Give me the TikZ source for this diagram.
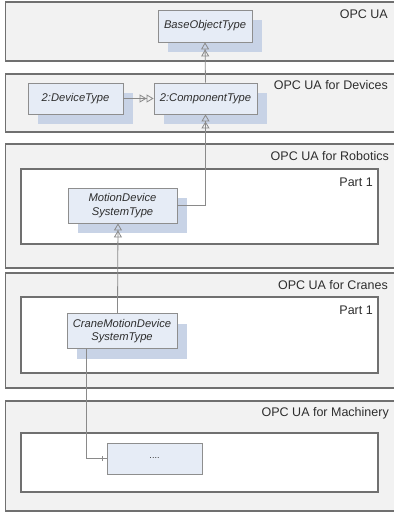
\documentclass[tikz,border=0pt]{standalone}
\usepackage{fontspec}
\setmainfont{Liberation Sans}
\usetikzlibrary{arrows.meta,shadows}
\definecolor{pkgfill}{HTML}{F2F2F2}
\definecolor{pkgdraw}{HTML}{707070}
\definecolor{nodefill}{HTML}{E6ECF6}
\definecolor{nodedraw}{HTML}{8E8E8E}
\definecolor{shadowcol}{HTML}{C8D3E6}
\definecolor{linecol}{HTML}{8A8A8A}
\definecolor{textcol}{HTML}{2E2E2E}
\tikzset{
  pkg/.style={draw=pkgdraw, fill=pkgfill, line width=1.1pt},
  part/.style={draw=pkgdraw, fill=white, line width=1.1pt},
  title/.style={anchor=east, inner sep=0pt, font=\fontsize{12.5}{14}\selectfont, text=textcol},
  umlbox/.style={draw=nodedraw, fill=nodefill, line width=0.8pt, inner sep=0pt, align=center,
    font=\itshape\fontsize{11.2}{13.5}\selectfont, text=textcol},
  shadowed/.style={drop shadow={shadow xshift=10pt, shadow yshift=-10pt, fill=shadowcol, opacity=1}},
  inh/.style={draw=linecol, line width=0.8pt,
    -{Triangle[open,length=7pt,width=8pt,line width=0.8pt]Triangle[open,length=7pt,width=8pt,line width=0.8pt]}},
  conn/.style={draw=linecol, line width=0.8pt},
}
\begin{document}
\begin{tikzpicture}[x=1pt,y=-1pt]
\useasboundingbox (0,0) rectangle (394,512);
% packages
\draw[pkg] (5.5,2) rectangle (400,61);
\draw[pkg] (5.5,74) rectangle (400,132);
\draw[pkg] (5.5,144) rectangle (400,268);
\draw[part] (21,169) rectangle (378,244);
\draw[pkg] (5.5,273) rectangle (400,388);
\draw[part] (21,297) rectangle (378,373);
\draw[pkg] (5.5,401) rectangle (400,511);
\draw[part] (21,433) rectangle (378,492);
% titles
\node[title] (t1) at (388,14) {OPC UA};
\node[title] (t2) at (388,85) {OPC UA for Devices};
\node[title] (t3) at (389,156) {OPC UA for Robotics};
\node[title] (t3p) at (373,182) {Part 1};
\node[title] (t4) at (388,285) {OPC UA for Cranes};
\node[title] (t4p) at (373,310) {Part 1};
\node[title] (t5) at (389,413) {OPC UA for Machinery};
% classes
\node[umlbox, shadowed, minimum width=94pt, minimum height=32pt] (base) at (205,26) {BaseObjectType};
\node[umlbox, shadowed, minimum width=95pt, minimum height=31pt] (dev) at (75.5,98.5) {2:DeviceType};
\node[umlbox, shadowed, minimum width=103pt, minimum height=31pt] (comp) at (205.5,98.5) {2:ComponentType};
\node[umlbox, shadowed, minimum width=109pt, minimum height=35pt] (motion) at (122.5,205.5) {MotionDevice\\SystemType};
\node[umlbox, shadowed, minimum width=110pt, minimum height=35pt] (crane) at (122,331) {CraneMotionDevice\\SystemType};
\node[umlbox, minimum width=95pt, minimum height=31pt, font=\fontsize{9}{11}\selectfont] (dots) at (154.5,458.5) {....};
% connectors
\draw[inh] (comp.north) -- (base.south);
\draw[inh] (dev.east) -- (comp.west);
\draw[inh] (motion.east) -| (comp.south);
\draw[inh] ([xshift=-4.5pt]crane.north) -- ([xshift=-4.5pt]motion.south);
\draw[conn] ([xshift=-36pt]crane.south) |- (dots.west);
\draw[conn] ([xshift=-4pt,yshift=-2.5pt]dots.west) -- ([xshift=-4pt,yshift=2.5pt]dots.west);
\end{tikzpicture}
\end{document}
